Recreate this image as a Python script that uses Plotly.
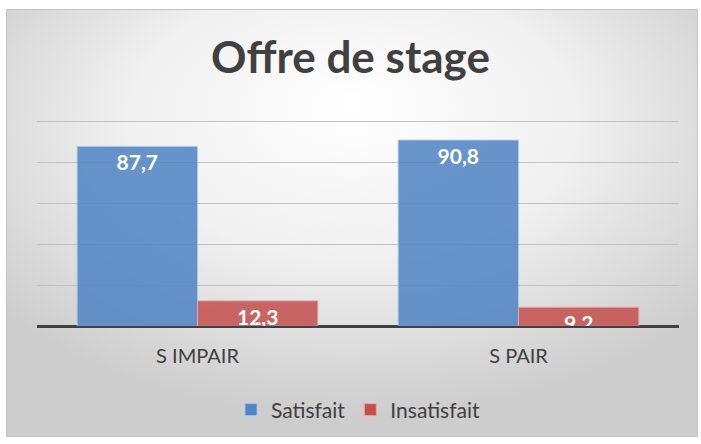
import base64
import plotly.graph_objects as go

categories = ["S IMPAIR", "S PAIR"]
satisfait = [87.7, 90.8]
insatisfait = [12.3, 9.2]
satisfait_labels = ["87,7", "90,8"]
insatisfait_labels = ["12,3", "9,2"]
y_ticks = [0, 20, 40, 60, 80, 100]

FONT = "Lato, Open Sans, sans-serif"
BLUE = "#4f84c4"
RED = "#c4504e"

fig = go.Figure()
fig.add_trace(go.Bar(
    name="Satisfait", x=categories, y=satisfait, text=satisfait_labels,
    marker=dict(color=BLUE, opacity=0.86, line=dict(color="rgba(170,195,230,0.9)", width=1)),
    textposition="inside", insidetextanchor="end", constraintext="none",
    textfont=dict(color="white", size=21, family=FONT, weight="bold"),
))
fig.add_trace(go.Bar(
    name="Insatisfait", x=categories, y=insatisfait, text=insatisfait_labels,
    marker=dict(color=RED, opacity=0.86, line=dict(color="rgba(235,170,170,0.9)", width=1)),
    textposition="inside", insidetextanchor="end", constraintext="none",
    textfont=dict(color="white", size=21, family=FONT, weight="bold"),
))

svg = """<svg xmlns='http://www.w3.org/2000/svg' width='692' height='428' viewBox='0 0 692 428' preserveAspectRatio='none'>
<defs><radialGradient id='g' cx='50%' cy='30%' r='65%' fx='50%' fy='22%'>
<stop offset='0%' stop-color='#ffffff'/><stop offset='50%' stop-color='#f0f0f0'/><stop offset='100%' stop-color='#cdcdcd'/>
</radialGradient></defs><rect width='692' height='428' fill='url(#g)' stroke='#c4c4c4' stroke-width='2'/></svg>"""
src = "data:image/svg+xml;base64," + base64.b64encode(svg.encode()).decode()

L, R, T, B = 37, 679, 120, 326
W = R - L
H = B - T
def px(x):
    return (x - L) / W
def py(y):
    return (B - y) / H

fig.add_layout_image(dict(
    source=src, xref="paper", yref="paper",
    x=px(6), y=py(9), sizex=(698 - 6) / W, sizey=(437 - 9) / H,
    xanchor="left", yanchor="top", sizing="stretch", layer="below",
))

fig.update_layout(
    width=701, height=444,
    margin=dict(l=L, r=701 - R, t=T, b=444 - B),
    paper_bgcolor="white", plot_bgcolor="rgba(0,0,0,0)",
    barmode="group", bargap=0.25, bargroupgap=0,
    title=dict(text="<b>Offre de stage</b>", x=0.5, xanchor="center",
               y=1 - 58 / 444, yanchor="middle",
               font=dict(family=FONT, size=44, color="#404040")),
    font=dict(family=FONT, color="#404040"),
    xaxis=dict(showgrid=False, showline=False, ticks="",
               tickfont=dict(size=20, color="#404040"), ticklabelstandoff=16),
    yaxis=dict(range=[0, 100.6], tickvals=y_ticks, showticklabels=False,
               showgrid=True, gridcolor="#c2c2c2", gridwidth=1,
               zeroline=True, zerolinecolor="#404040", zerolinewidth=3,
               showline=False, fixedrange=True),
    legend=dict(orientation="h", x=0.5, xanchor="center", y=py(410), yanchor="middle",
                font=dict(size=21, color="#404040"), bgcolor="rgba(0,0,0,0)",
                itemwidth=30),
    showlegend=True,
)

fig.write_html("out.html", config={"displayModeBar": False},
               post_script="document.body.style.margin='0';")
